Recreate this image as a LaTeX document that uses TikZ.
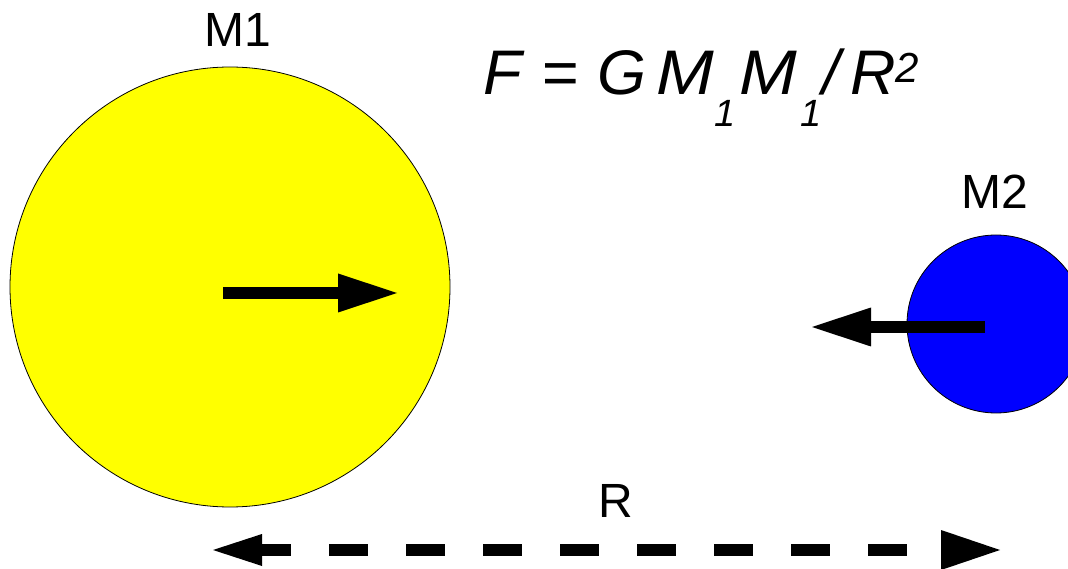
\documentclass[tikz,border=0pt]{standalone}
\usepackage{fontspec}
\setmainfont{Liberation Sans}
\usetikzlibrary{arrows.meta}
\definecolor{pureyellow}{RGB}{255,255,0}
\definecolor{pureblue}{RGB}{0,0,255}
\newcommand\eqsubscr[1]{\raisebox{-32pt}{\fontsize{38}{38}\selectfont #1}}
\newcommand\eqsuperscr[1]{\raisebox{12pt}{\fontsize{42}{42}\selectfont #1}}
\begin{document}
\begin{tikzpicture}[x=1pt,y=1pt,
  lbl/.style={font=\fontsize{48}{58}\selectfont, inner sep=0pt, anchor=base},
  body/.style={circle, draw=black, line width=0.8pt, inner sep=0pt},
  force/.style={line width=12pt, -{Triangle[length=59pt,width=39pt,line width=0pt]}},
  dist/.style={line width=12pt, dash pattern=on 39pt off 38pt, dash phase=10pt},
  headfill/.style={fill=black},
]
\useasboundingbox (0,0) rectangle (1068,568);
\clip (0,0) rectangle (1068,568);
\node[body, fill=pureyellow, minimum size=440pt] (m1) at (230,281) {};
\node[body, fill=pureblue, minimum size=178pt] (m2) at (996,244) {};
\node[lbl] (l1) at (238,521) {M1};
\node[lbl] (l2) at (995,359) {M2};
\node[lbl] (lr) at (616,51) {R};
\node[anchor=base west, inner sep=0pt, font=\fontsize{63}{70}\selectfont\itshape] (eq) at (483,473)
  {F\kern20pt=\kern19pt G\kern10pt \scalebox{1.1}[1]{M}\kern0pt\eqsubscr{1}\kern4pt \scalebox{1.1}[1]{M}\kern3pt\eqsubscr{1}\kern1pt/\kern11pt R\kern-1pt\eqsuperscr{2}};
% forces
\coordinate (a1s) at (223,275);
\coordinate (a1e) at (397,275);
\coordinate (a2s) at (985,241);
\coordinate (a2e) at (812,241);
\draw[force] (a1s) -- (a1e);
\draw[force] (a2s) -- (a2e);
% distance
\coordinate (Lt) at (213,18);
\coordinate (Lb) at (262,18);
\coordinate (Rb) at (941,18);
\coordinate (Rt) at (1000,18);
\draw[dist] (Lb) -- (Rb);
\fill[headfill] (Lt) -- ([yshift=16pt]Lb) -- ([yshift=-16pt]Lb) -- cycle;
\fill[headfill] (Rt) -- ([yshift=20pt]Rb) -- ([yshift=-20pt]Rb) -- cycle;
\end{tikzpicture}
\end{document}
